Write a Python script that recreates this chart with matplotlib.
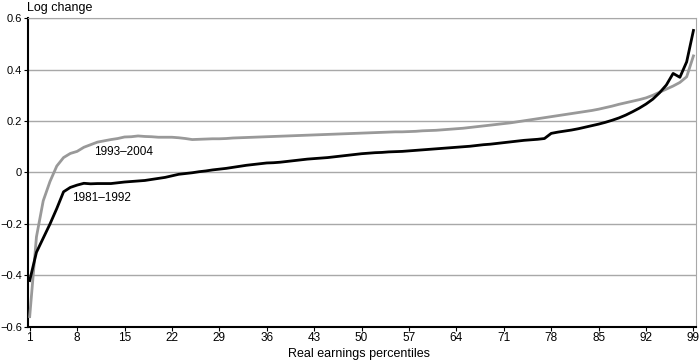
import matplotlib
matplotlib.use("Agg")
import matplotlib.pyplot as plt

plt.rcParams["font.family"] = ["Liberation Sans", "DejaVu Sans"]

percentiles = list(range(1, 100))

# 1981–1992 log change by percentile
change_8192 = [
    -0.420, -0.310, -0.255, -0.200, -0.140, -0.075, -0.058, -0.049, -0.042, -0.044,
    -0.043, -0.043, -0.043, -0.040, -0.037, -0.035, -0.033, -0.031, -0.027, -0.023,
    -0.019, -0.013, -0.007, -0.004, -0.001, 0.003, 0.006, 0.010, 0.013, 0.016,
    0.020, 0.024, 0.028, 0.031, 0.034, 0.037, 0.038, 0.040, 0.043, 0.046,
    0.049, 0.052, 0.054, 0.056, 0.058, 0.061, 0.064, 0.067, 0.070, 0.073,
    0.075, 0.077, 0.078, 0.080, 0.081, 0.082, 0.084, 0.086, 0.088, 0.090,
    0.092, 0.094, 0.096, 0.098, 0.100, 0.102, 0.105, 0.108, 0.110, 0.113,
    0.116, 0.119, 0.122, 0.125, 0.127, 0.129, 0.132, 0.152, 0.157, 0.161,
    0.165, 0.170, 0.176, 0.182, 0.188, 0.195, 0.203, 0.212, 0.223, 0.236,
    0.250, 0.266, 0.285, 0.310, 0.340, 0.385, 0.370, 0.430, 0.552,
]

# 1993–2004 log change by percentile
change_9304 = [
    -0.560, -0.250, -0.110, -0.035, 0.025, 0.058, 0.074, 0.082, 0.098, 0.108,
    0.118, 0.123, 0.128, 0.132, 0.138, 0.139, 0.142, 0.140, 0.139, 0.137,
    0.137, 0.137, 0.135, 0.132, 0.128, 0.129, 0.130, 0.131, 0.131, 0.132,
    0.134, 0.135, 0.136, 0.137, 0.138, 0.139, 0.140, 0.141, 0.142, 0.143,
    0.144, 0.145, 0.146, 0.147, 0.148, 0.149, 0.150, 0.151, 0.152, 0.153,
    0.154, 0.155, 0.156, 0.157, 0.158, 0.158, 0.159, 0.160, 0.162, 0.163,
    0.164, 0.166, 0.168, 0.170, 0.172, 0.175, 0.178, 0.181, 0.184, 0.187,
    0.190, 0.193, 0.197, 0.201, 0.205, 0.209, 0.213, 0.217, 0.221, 0.225,
    0.229, 0.233, 0.237, 0.241, 0.246, 0.252, 0.258, 0.265, 0.271, 0.277,
    0.283, 0.290, 0.300, 0.312, 0.324, 0.336, 0.350, 0.372, 0.453,
]

x_ticks = [1, 8, 15, 22, 29, 36, 43, 50, 57, 64, 71, 78, 85, 92, 99]
y_ticks = [-0.6, -0.4, -0.2, 0, 0.2, 0.4, 0.6]
y_labels = ["\u22120.6", "\u22120.4", "\u22120.2", "0", "0.2", "0.4", "0.6"]

fig = plt.figure(figsize=(7, 3.62), dpi=100)
ax = fig.add_axes([0.0395, 0.097, 0.955, 0.853])

for y in y_ticks[1:]:
    ax.axhline(y, color="#a8a8a8", lw=1.0, zorder=1)

ax.plot(percentiles, change_9304, color="#999999", lw=2.0, zorder=3)
ax.plot(percentiles, change_8192, color="black", lw=2.0, zorder=4)

ax.text(14.8, 0.079, "1993\u20132004", ha="center", va="center", fontsize=8.5)
ax.text(11.6, -0.100, "1981\u20131992", ha="center", va="center", fontsize=8.5)

ax.set_xlim(0.7, 99.4)
ax.set_ylim(-0.6, 0.6)
ax.set_xticks(x_ticks)
ax.set_yticks(y_ticks)
ax.set_yticklabels(y_labels)
ax.tick_params(axis="both", labelsize=8.5, length=3, width=0.8, pad=1)
ax.tick_params(axis="y", labelsize=8)

ax.spines["left"].set_color("black")
ax.spines["left"].set_linewidth(1.5)
ax.spines["bottom"].set_color("black")
ax.spines["bottom"].set_linewidth(1.5)
ax.spines["top"].set_color("#a8a8a8")
ax.spines["right"].set_color("#a8a8a8")

fig.text(0.513, 0.005, "Real earnings percentiles", ha="center", va="bottom", fontsize=9)
fig.text(0.0385, 0.994, "Log change", ha="left", va="top", fontsize=9)

fig.savefig("out.png", dpi=100)
